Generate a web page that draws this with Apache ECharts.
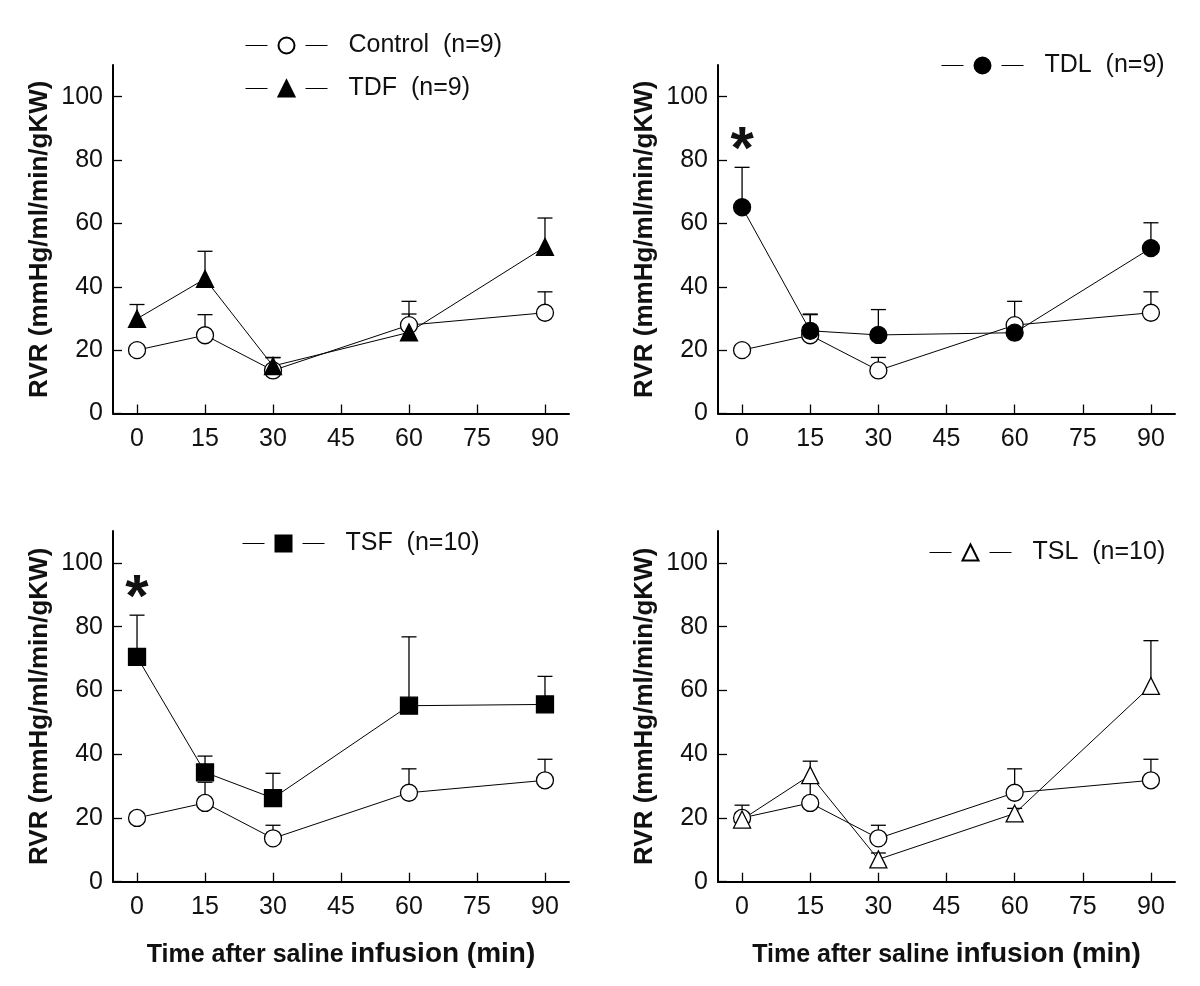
<!DOCTYPE html>
<html>
<head>
<meta charset="utf-8">
<script src="https://cdn.jsdelivr.net/npm/echarts@6/dist/echarts.min.js"></script>
<style>
  html, body { margin: 0; padding: 0; background: #fff; }
  #chart { width: 1200px; height: 986px; }
</style>
</head>
<body>
<div id="chart"></div>
<script>
// ---------- data ----------
const timePoints = [0, 15, 30, 60, 90];
const xTickValues = [0, 15, 30, 45, 60, 75, 90];
const yTickValues = [0, 20, 40, 60, 80, 100];

const controlName = 'Control  (n=9)';
const controlMean  = [20, 24.7, 13.6, 27.9, 31.8];
const controlUpper = [21.5, 31.2, 17.7, 35.4, 38.4];
const controlSig   = ['', '', '', '', ''];

const tdfName  = 'TDF  (n=9)';
const tdfMean  = [29.9, 42.5, 15.0, 25.6, 52.6];
const tdfUpper = [34.4, 51.2, 17.6, 31.4, 61.7];
const tdfSig   = ['', '', '', '', ''];

const tdlName  = 'TDL  (n=9)';
const tdlMean  = [65.1, 26.1, 24.8, 25.5, 52.2];
const tdlUpper = [77.7, 31.4, 32.8, 28.0, 60.2];
const tdlSig   = ['*', '', '', '', ''];

const tsfName  = 'TSF  (n=10)';
const tsfMean  = [70.5, 34.3, 26.2, 55.2, 55.6];
const tsfUpper = [83.6, 39.4, 34.0, 76.8, 64.4];
const tsfSig   = ['*', '', '', '', ''];

const tslName  = 'TSL  (n=10)';
const tslMean  = [19.5, 33.4, 7.0, 21.4, 61.4];
const tslUpper = [24.0, 37.8, 9.0, 23.0, 75.6];
const tslSig   = ['', '', '', '', ''];

const yAxisTitle = 'RVR (mmHg/ml/min/gKW)';
const xAxisTitleA = 'Time after saline';
const xAxisTitleB = 'infusion (min)';

// ---------- helpers ----------
const NUM_FONT = "'Liberation Sans', Arial, sans-serif";
const TXT_FONT = "'Liberation Sans', Arial, sans-serif";

const panels = [
  { grid: { left: 113, right: 631, top: 65, bottom: 572.5 }, treat: { name: tdfName, mean: tdfMean, upper: tdfUpper, sig: tdfSig, symbol: 'triangle', fill: '#000' }, xName: false },
  { grid: { left: 718, right: 25, top: 65, bottom: 572.5 }, treat: { name: tdlName, mean: tdlMean, upper: tdlUpper, sig: tdlSig, symbol: 'circle', fill: '#000' }, xName: false },
  { grid: { left: 113, right: 631, top: 531, bottom: 104.3 }, treat: { name: tsfName, mean: tsfMean, upper: tsfUpper, sig: tsfSig, symbol: 'rect', fill: '#000' }, xName: true },
  { grid: { left: 718, right: 25, top: 531, bottom: 104.3 }, treat: { name: tslName, mean: tslMean, upper: tslUpper, sig: tslSig, symbol: 'triangle', fill: '#fff' }, xName: true }
];

function pairs(mean) { return timePoints.map((t, i) => [t, mean[i]]); }
function triples(mean, upper) { return timePoints.map((t, i) => [t, mean[i], upper[i]]); }

function errorSeries(name, idx, mean, upper, sig) {
  return {
    type: 'custom',
    name: name + ' SEM',
    xAxisIndex: idx, yAxisIndex: idx,
    z: 1,
    silent: true,
    encode: { x: 0, y: [1, 2] },
    data: triples(mean, upper),
    renderItem: function (params, api) {
      const x = api.value(0);
      const p0 = api.coord([x, api.value(1)]);
      const p1 = api.coord([x, api.value(2)]);
      const children = [
        { type: 'line', shape: { x1: p0[0], y1: p0[1], x2: p1[0], y2: p1[1] }, style: { stroke: '#000', lineWidth: 1.3 } },
        { type: 'line', shape: { x1: p1[0] - 7.5, y1: p1[1], x2: p1[0] + 7.5, y2: p1[1] }, style: { stroke: '#000', lineWidth: 1.3 } }
      ];
      const s = sig[params.dataIndex];
      if (s) {
        children.push({ type: 'text', style: { text: s, x: p1[0], y: p1[1] - 16, align: 'center', verticalAlign: 'middle', font: "bold 60px " + TXT_FONT, fill: '#111' } });
      }
      return { type: 'group', children: children };
    }
  };
}

function lineSeries(name, idx, mean, symbol, fill) {
  return {
    type: 'line',
    name: name,
    xAxisIndex: idx, yAxisIndex: idx,
    z: 3,
    data: pairs(mean),
    symbol: symbol,
    symbolSize: 17,
    showAllSymbol: true,
    itemStyle: { color: fill, borderColor: '#000', borderWidth: 1.3 },
    lineStyle: { color: '#000', width: 1 },
    emphasis: { disabled: true }
  };
}

const grids = [], xAxes = [], yAxes = [], series = [];
panels.forEach((p, i) => {
  grids.push(p.grid);
  xAxes.push({
    type: 'value', gridIndex: i, min: -5.3, max: 95.3,
    axisLine: { show: true, onZero: false, lineStyle: { color: '#000', width: 2 } },
    axisTick: { show: true, inside: true, length: 9, lineStyle: { color: '#000', width: 1.3 }, customValues: xTickValues },
    axisLabel: { show: true, customValues: xTickValues, margin: 13, fontSize: 25, fontFamily: NUM_FONT, color: '#111' },
    splitLine: { show: false },
    name: p.xName ? '{a|' + xAxisTitleA + '}  {b|' + xAxisTitleB + '}' : '',
    nameLocation: 'middle', nameGap: 59,
    nameTextStyle: {
      rich: {
        a: { fontSize: 25, fontWeight: 'bold', fontFamily: TXT_FONT, color: '#111' },
        b: { fontSize: 28, fontWeight: 'bold', fontFamily: TXT_FONT, color: '#111' }
      }
    }
  });
  yAxes.push({
    type: 'value', gridIndex: i, min: 0, max: 110,
    axisLine: { show: true, onZero: false, lineStyle: { color: '#000', width: 2 } },
    axisTick: { show: true, inside: true, length: 9, lineStyle: { color: '#000', width: 1.3 }, customValues: yTickValues },
    axisLabel: { show: true, customValues: yTickValues, margin: 10, fontSize: 25, fontFamily: NUM_FONT, color: '#111' },
    splitLine: { show: false },
    name: yAxisTitle, nameLocation: 'middle', nameGap: 60,
    nameTextStyle: { fontSize: 26, fontWeight: 'bold', fontFamily: TXT_FONT, color: '#111' }
  });
  series.push(errorSeries(controlName, i, controlMean, controlUpper, controlSig));
  series.push(errorSeries(p.treat.name, i, p.treat.mean, p.treat.upper, p.treat.sig));
  series.push(lineSeries(controlName, i, controlMean, 'circle', '#fff'));
  series.push(lineSeries(p.treat.name, i, p.treat.mean, p.treat.symbol, p.treat.fill));
});

function legendFor(names, left, top) {
  return {
    data: names, orient: 'vertical', left: left, top: top, padding: 0,
    itemWidth: 82, itemHeight: 20, itemGap: 18,
    selectedMode: false,
    lineStyle: { type: [22, 38], width: 1, color: '#000' },
    textStyle: { fontSize: 25, fontFamily: TXT_FONT, color: '#111', padding: [0, 0, 0, 16] }
  };
}

const chart = echarts.init(document.getElementById('chart'), null, { renderer: 'canvas' });
chart.setOption({
  animation: false,
  backgroundColor: '#fff',
  grid: grids,
  xAxis: xAxes,
  yAxis: yAxes,
  legend: [
    legendFor([controlName, tdfName], 245, 33),
    legendFor([tdlName], 941, 53),
    legendFor([tsfName], 242, 531),
    legendFor([tslName], 929, 540)
  ],
  series: series
});
</script>
</body>
</html>
